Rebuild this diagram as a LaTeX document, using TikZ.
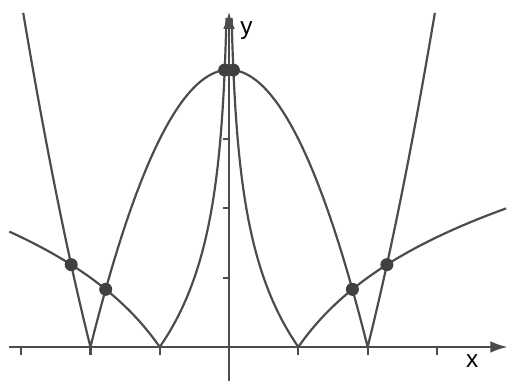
\documentclass[tikz,border=0pt]{standalone}
\usepackage{fontspec}
\setmainfont{Liberation Sans}
\usetikzlibrary{arrows.meta}

\begin{document}
\begin{tikzpicture}[x=1cm,y=1cm,
    curve/.style={black!70, line width=0.9pt},
    axis/.style={black!70, line width=0.9pt, -{Latex[length=2.5mm,width=1.7mm]}},
    dot/.style={fill=black!75}]
    \useasboundingbox (-3.305,-0.49) rectangle (4.04,5.007);

    % y = |4 - x^2|
    \draw[curve] plot[domain=-2.97:-2, samples=40] (\x,{\x*\x-4})
        -- plot[domain=-2:2, samples=120] (\x,{4-\x*\x})
        -- plot[domain=2:2.97, samples=40] (\x,{\x*\x-4});

    % y = |log2 |x||
    \draw[curve] plot[variable=\t, domain=1.665:0, samples=40] ({-pow(2,\t)},\t)
        -- plot[variable=\t, domain=0:4.75, samples=80] ({-pow(2,-\t)},\t);
    \draw[curve] plot[variable=\t, domain=4.75:0, samples=80] ({pow(2,-\t)},\t)
        -- plot[variable=\t, domain=0:2, samples=40] ({pow(2,\t)},\t);

    % axes
    \draw[axis] (-3.17,0) -- (4.02,0);
    \draw[axis] (0,-0.49) -- (0,4.84);
    \foreach \t in {-3,-2,-1,1,2,3}
        \draw[curve] (\t,0) -- (\t,-0.12);
    \foreach \t in {1,2,3}
        \draw[curve] (0,\t) -- (-0.08,\t);

    \node (xlab) at (3.51,-0.2) {x};
    \node (ylab) at (0.25,4.56) {y};

    % intersections
    \coordinate (s1) at (-2.2776,1.1875);
    \coordinate (s2) at (-1.78,0.832);
    \coordinate (s3) at (-0.0627,3.996);
    \coordinate (s4) at (0.0627,3.996);
    \coordinate (s5) at (1.78,0.832);
    \coordinate (s6) at (2.2776,1.1875);
    \foreach \p in {s1,s2,s3,s4,s5,s6}
        \fill[dot] (\p) circle (0.094);
\end{tikzpicture}
\end{document}
